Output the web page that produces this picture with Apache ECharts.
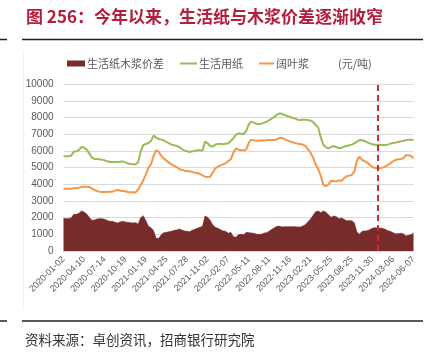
<!DOCTYPE html>
<html><head><meta charset="utf-8">
<script src="https://cdn.jsdelivr.net/npm/echarts@6/dist/echarts.min.js"></script>
<style>html,body{margin:0;padding:0;background:#fff}#c{width:435px;height:358px}</style>
</head><body><div id="c"></div>
<script>
const tickLabels = ['2020-01-02','2020-04-10','2020-07-14','2020-10-19','2021-01-19','2021-04-25','2021-07-28','2021-11-02','2022-02-07','2022-05-11','2022-08-11','2022-11-16','2023-02-21','2023-05-25','2023-08-25','2023-11-30','2024-03-06','2024-06-07'];
const pointsPerTick = 8;
const markerIndex = 122; // 2024 年初

const paper = [5680,5680,5680,5720,5960,5980,6060,6240,6200,6080,5860,5600,5520,5520,5500,5480,5440,5380,5340,5340,5340,5340,5360,5380,5320,5260,5220,5200,5200,5320,
5960,6360,6420,6480,6600,6920,6800,6720,6680,6640,6540,6460,6380,6340,6300,6240,6120,6020,5980,5940,5980,6000,6040,6040,6020,6560,6460,6300,6260,6380,
6420,6420,6400,6440,6460,6600,6760,6980,7060,7040,7020,7200,7600,7760,7700,7620,7620,7640,7700,7760,7860,7960,8060,8180,8260,8220,8160,8100,8040,7980,
7940,7880,7860,7880,7880,7860,7820,7740,7560,7400,6800,6360,6220,6160,6240,6300,6220,6180,6180,6260,6300,6340,6380,6460,6560,6660,6640,6600,6520,6460,
6400,6380,6360,6360,6360,6360,6380,6440,6480,6500,6540,6580,6600,6640,6680,6680,6640];

const pulp = [3740,3740,3740,3740,3760,3780,3800,3840,3860,3860,3840,3760,3660,3600,3560,3540,3540,3550,3560,3560,3620,3660,3620,3600,3580,3540,3520,3520,3510,3700,
3960,4240,4600,5000,5200,5700,6040,5960,5700,5540,5420,5300,5200,5100,5040,4920,4860,4820,4800,4780,4740,4700,4680,4620,4540,4460,4440,4460,4700,4960,
5060,5140,5200,5260,5400,5480,5900,6160,6080,6040,6040,6080,6500,6680,6640,6620,6620,6640,6620,6660,6660,6660,6660,6700,6780,6780,6700,6640,6580,6520,
6480,6440,6420,6380,6300,6100,5900,5600,5200,4900,4500,3960,3900,4000,4220,4200,4160,4240,4200,4360,4480,4520,4560,4760,5420,5660,5460,5400,5300,5180,
5040,4980,4980,4980,5000,5060,5160,5260,5380,5460,5500,5520,5560,5740,5740,5700,5560];

const spread = [1960,1940,1950,1980,2200,2200,2260,2400,2340,2220,2020,1840,1860,1920,1940,1940,1900,1830,1780,1780,1720,1680,1740,1780,1740,1720,1700,1680,1690,1620,
2000,2120,1820,1480,1400,1220,760,760,980,1100,1120,1160,1180,1240,1260,1320,1260,1200,1180,1160,1240,1300,1360,1420,1480,2100,2020,1840,1560,1420,
1360,1280,1200,1180,1060,1120,860,820,980,1000,980,1120,1100,1080,1060,1000,1000,1000,1080,1100,1200,1300,1400,1480,1480,1440,1460,1460,1460,1460,
1460,1440,1440,1500,1580,1760,1920,2140,2360,2400,2300,2400,2320,2160,2020,2100,2060,1940,1980,1900,1820,1820,1820,1700,1140,1000,1180,1200,1220,1280,
1360,1400,1380,1380,1360,1300,1220,1180,1100,1040,1040,1060,1040,900,940,980,1080];

const seriesNames = ['生活纸木浆价差','生活用纸','阔叶浆'];
const categories = paper.map((_, i) => i % pointsPerTick === 0 ? tickLabels[i / pointsPerTick] : '');

const CJK = '"Noto Sans CJK SC", sans-serif';
const LAT = '"Liberation Sans", Arial, sans-serif';
const chart = echarts.init(document.getElementById('c'), null, {renderer: 'canvas'});
const legendBase = {orient:'horizontal', padding:0, itemGap:0, icon:'rect',
  textStyle:{fontSize:11, color:'#595959', fontFamily:CJK, padding:[0,0,0,-3]}};
chart.setOption({
  animation: false,
  backgroundColor: '#fff',
  grid: {left: 63.5, right: 21.5, top: 84.3, bottom: 107, containLabel: false},
  legend: [
    Object.assign({}, legendBase, {data:[seriesNames[0]], left:67, top:58, itemWidth:18, itemHeight:6}),
    Object.assign({}, legendBase, {data:[seriesNames[1]], left:180, top:58, itemWidth:17, itemHeight:2}),
    Object.assign({}, legendBase, {data:[seriesNames[2]], left:259, top:58, itemWidth:15, itemHeight:2})
  ],
  xAxis: {
    type: 'category', data: categories, boundaryGap: false,
    axisLine: {show: true, lineStyle: {color: '#d9d9d9'}},
    axisTick: {show: false},
    axisLabel: {interval: pointsPerTick - 1, rotate: 45, fontSize: 9, color: '#595959', fontFamily: LAT, margin: 7}
  },
  yAxis: {
    type: 'value', min: 0, max: 10000, interval: 1000,
    axisLine: {show: false}, axisTick: {show: false},
    splitLine: {lineStyle: {color: '#d9d9d9', width: 1}},
    axisLabel: {fontSize: 10, color: '#595959', fontFamily: LAT, margin: 10, formatter: v => String(v)}
  },
  series: [
    {name: seriesNames[0], type: 'line', data: spread, symbol: 'none', showSymbol: false,
     lineStyle: {width: 0.6, color: '#772B2B'}, itemStyle: {color: '#772B2B'},
     areaStyle: {color: '#772B2B', opacity: 1}, z: 1,
     markLine: {silent: true, symbol: 'none', label: {show: false},
       lineStyle: {color: '#D12B2F', type: [6, 4], width: 2},
       data: [{xAxis: markerIndex}]}},
    {name: seriesNames[1], type: 'line', data: paper, symbol: 'none', showSymbol: false,
     lineStyle: {width: 2, color: '#9BBB59'}, itemStyle: {color: '#9BBB59'}, z: 3},
    {name: seriesNames[2], type: 'line', data: pulp, symbol: 'none', showSymbol: false,
     lineStyle: {width: 2, color: '#F79646'}, itemStyle: {color: '#F79646'}, z: 3}
  ],
  graphic: [
    {type: 'text', left: 26, top: 8, style: {text: '图 256：今年以来，生活纸与木浆价差逐渐收窄', fill: '#B31E3E', font: 'bold 17px ' + CJK}},
    {type: 'line', shape: {x1: 22, y1: 39.5, x2: 423, y2: 39.5}, style: {stroke: '#1f1f1f', lineWidth: 1.5}},
    {type: 'line', shape: {x1: 0, y1: 39.5, x2: 7, y2: 39.5}, style: {stroke: '#1f1f1f', lineWidth: 1.5}},
    {type: 'line', shape: {x1: 22, y1: 321, x2: 423, y2: 321}, style: {stroke: '#1f1f1f', lineWidth: 1.5}},
    {type: 'line', shape: {x1: 0, y1: 321, x2: 7, y2: 321}, style: {stroke: '#1f1f1f', lineWidth: 1.5}},
    {type: 'line', shape: {x1: 23.5, y1: 50, x2: 23.5, y2: 310}, style: {stroke: '#f0f0f0', lineWidth: 1}},
    {type: 'text', left: 338, top: 58, style: {text: '(元/吨)', fill: '#595959', font: '11px ' + CJK}},
    {type: 'text', left: 25, top: 333, style: {text: '资料来源：卓创资讯，招商银行研究院', fill: '#333333', font: '13.5px ' + CJK}}
  ]
});
</script>
</body></html>
